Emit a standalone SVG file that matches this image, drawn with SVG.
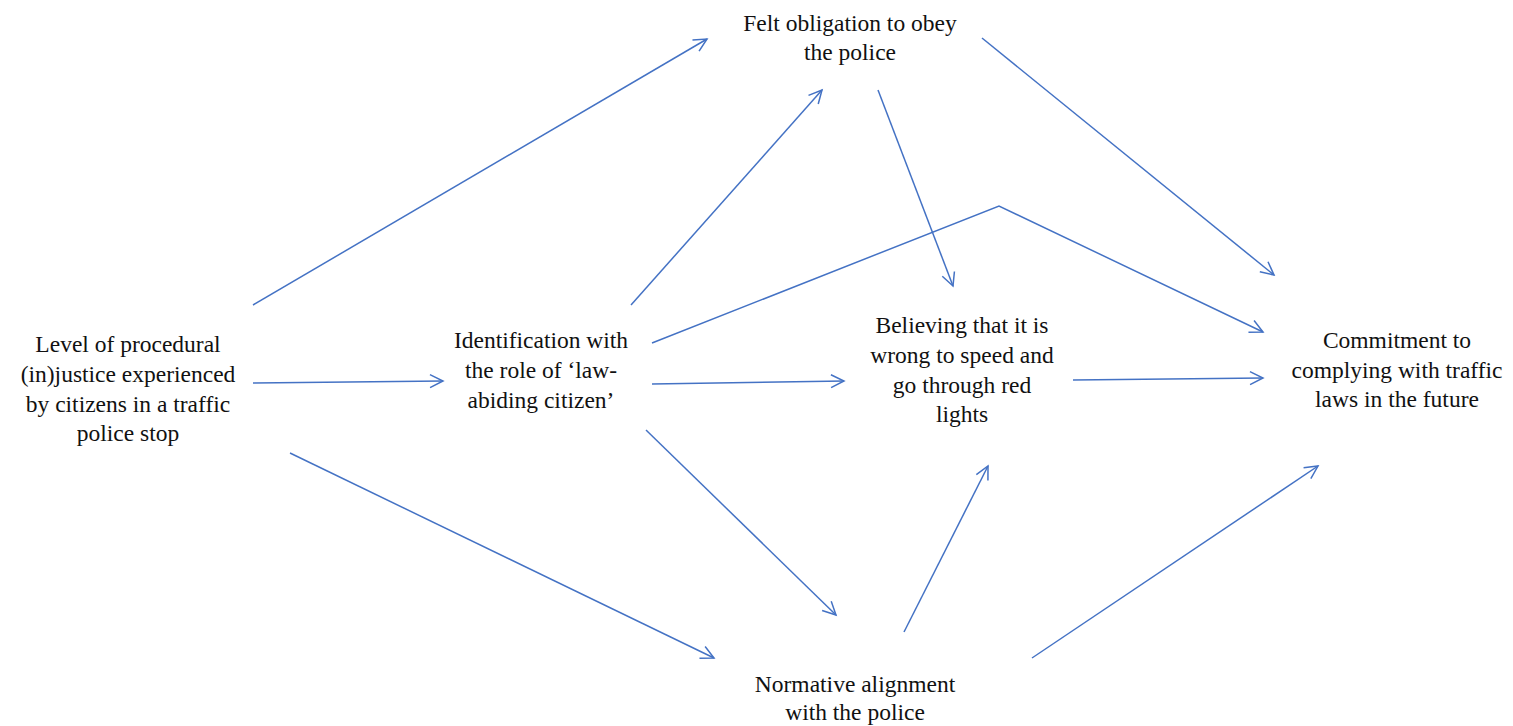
<svg xmlns="http://www.w3.org/2000/svg" width="1513" height="726" viewBox="0 0 1513 726">
<style>
text{font-family:'Liberation Serif','DejaVu Serif',serif;font-size:23.5px;fill:#111;text-anchor:middle}
.c{fill:none;stroke:#4472C4;stroke-width:1.5;marker-end:url(#arr)}
</style>
<defs>
<marker id="arr" markerUnits="userSpaceOnUse" markerWidth="20" markerHeight="20" refX="0" refY="0" orient="auto" viewBox="-16 -10 20 20" overflow="visible">
<path d="M-13,-6.5 L0,0 L-13,6.5" fill="none" stroke="#4472C4" stroke-width="1.5"/>
</marker>
</defs>
<rect width="1513" height="726" fill="#fff"/>
<g id="connectors">
<line class="c" x1="253" y1="305" x2="707" y2="39"/>
<line class="c" x1="253" y1="383" x2="443" y2="381"/>
<line class="c" x1="290" y1="453" x2="714" y2="658"/>
<line class="c" x1="631" y1="305" x2="822" y2="90"/>
<polyline class="c" points="652,343 999,206 1263,332"/>
<line class="c" x1="652" y1="384" x2="844" y2="381"/>
<line class="c" x1="646" y1="430" x2="836" y2="615"/>
<line class="c" x1="878" y1="90" x2="953" y2="286"/>
<line class="c" x1="982" y1="38" x2="1274" y2="275"/>
<line class="c" x1="1073" y1="380" x2="1263" y2="378"/>
<line class="c" x1="904" y1="632" x2="988" y2="466"/>
<line class="c" x1="1032" y1="658" x2="1318" y2="466"/>
</g>
<g id="procedural" font-family="Liberation Serif, serif">
<text x="128" y="352">Level of procedural</text>
<text x="128" y="382">(in)justice experienced</text>
<text x="128" y="412">by citizens in a traffic</text>
<text x="128" y="441">police stop</text>
</g>
<g id="identification">
<text x="541" y="348">Identification with</text>
<text x="541" y="378">the role of ‘law-</text>
<text x="541" y="408">abiding citizen’</text>
</g>
<g id="obligation">
<text x="850" y="31">Felt obligation to obey</text>
<text x="850" y="60">the police</text>
</g>
<g id="believing">
<text x="962" y="333">Believing that it is</text>
<text x="962" y="363">wrong to speed and</text>
<text x="962" y="393">go through red</text>
<text x="962" y="422">lights</text>
</g>
<g id="commitment">
<text x="1397" y="348">Commitment to</text>
<text x="1397" y="378">complying with traffic</text>
<text x="1397" y="407">laws in the future</text>
</g>
<g id="normative">
<text x="855" y="692">Normative alignment</text>
<text x="855" y="720">with the police</text>
</g>
</svg>
